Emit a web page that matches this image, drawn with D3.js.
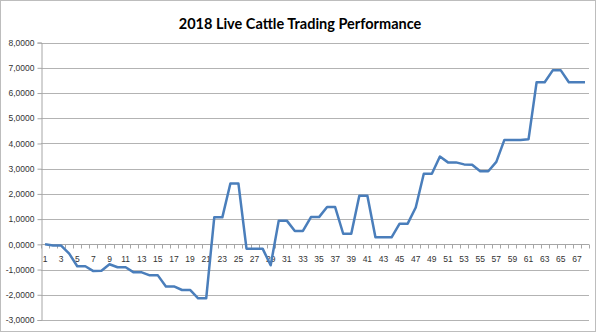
<!DOCTYPE html>
<html>
<head>
<meta charset="utf-8">
<script src="https://cdn.jsdelivr.net/npm/d3@7"></script>
<style>
  html, body { margin: 0; padding: 0; background: #fff; }
  svg { display: block; }
</style>
</head>
<body>
<svg id="chart" width="600" height="333"></svg>
<script>
const title = "2018 Live Cattle Trading Performance";
const categories = d3.range(1, 69).map(String);
const values = [
  0.00, -0.05, -0.05, -0.37, -0.87, -0.87, -1.06, -1.05, -0.79, -0.91,
  -0.91, -1.11, -1.11, -1.23, -1.23, -1.67, -1.67, -1.81, -1.81, -2.14,
  -2.14, 1.07, 1.07, 2.41, 2.41, -0.17, -0.17, -0.17, -0.83, 0.94,
  0.94, 0.53, 0.53, 1.08, 1.08, 1.48, 1.48, 0.42, 0.42, 1.93,
  1.93, 0.28, 0.28, 0.28, 0.82, 0.82, 1.46, 2.80, 2.80, 3.48,
  3.25, 3.25, 3.17, 3.16, 2.90, 2.90, 3.27, 4.14, 4.14, 4.14,
  4.17, 6.43, 6.43, 6.90, 6.90, 6.43, 6.43, 6.43
];
const yTicks = [-3, -2, -1, 0, 1, 2, 3, 4, 5, 6, 7, 8];

const svg = d3.select("#chart");
const mLeft = 41, mRight = 589, mTop = 42.6, mBottom = 320;

// outer frame
svg.append("rect").attr("x", 0.5).attr("y", 0.5).attr("width", 595).attr("height", 331)
  .attr("fill", "#fff").attr("stroke", "#bdbdbd").attr("stroke-width", 1);

const x = d3.scaleBand().domain(categories).range([mLeft, mRight]);
const y = d3.scaleLinear().domain([-3, 8]).range([mBottom, mTop]);

const fmt = v => v.toFixed(4).replace(".", ",");

// gridlines
svg.append("g").selectAll("line").data(yTicks).join("line")
  .attr("x1", mLeft).attr("x2", mRight)
  .attr("y1", d => Math.round(y(d)) + 0.5).attr("y2", d => Math.round(y(d)) + 0.5)
  .attr("stroke", "#b3b3b3").attr("stroke-width", 1);

// y axis
const yAxis = d3.axisLeft(y).tickValues(yTicks).tickFormat(fmt).tickSize(4).tickPadding(3);
const gy = svg.append("g").attr("transform", `translate(${mLeft + 0.5},0)`).call(yAxis);
gy.select(".domain").attr("stroke", "#a6a6a6");
gy.selectAll(".tick line").attr("stroke", "#a6a6a6");
gy.selectAll(".tick text").attr("fill", "#333").attr("font-family", "Liberation Sans, Arial, sans-serif").attr("font-size", 8.5);

// x axis at zero
const x0 = Math.round(y(0)) + 0.5;
const gx = svg.append("g").attr("transform", `translate(0,${x0})`);
gx.append("line").attr("x1", mLeft).attr("x2", mRight).attr("stroke", "#a6a6a6");
const bounds = d3.range(categories.length + 1).map(i => mLeft + i * x.step());
gx.selectAll("line.tk").data(bounds).join("line").attr("class", "tk")
  .attr("x1", d => Math.round(d) + 0.5).attr("x2", d => Math.round(d) + 0.5)
  .attr("y1", 0).attr("y2", 4).attr("stroke", "#a6a6a6");
gx.selectAll("text").data(categories.filter((c, i) => i % 2 === 0)).join("text")
  .attr("x", d => x(d) + x.bandwidth() / 2).attr("y", 17)
  .attr("text-anchor", "middle").attr("fill", "#333")
  .attr("font-family", "Liberation Sans, Arial, sans-serif").attr("font-size", 8.5)
  .text(d => d);

// line
const line = d3.line().x((d, i) => x(categories[i]) + x.bandwidth() / 2).y(d => y(d));
svg.append("path").datum(values).attr("d", line)
  .attr("fill", "none").attr("stroke", "#4a7ebb").attr("stroke-width", 2.5)
  .attr("stroke-linejoin", "round");

// title
svg.append("text").attr("x", 300).attr("y", 28.5).attr("text-anchor", "middle")
  .attr("font-family", "Lato, 'Open Sans', sans-serif").attr("font-weight", "bold")
  .attr("font-size", 14.5).attr("fill", "#000").text(title);
</script>
</body>
</html>
